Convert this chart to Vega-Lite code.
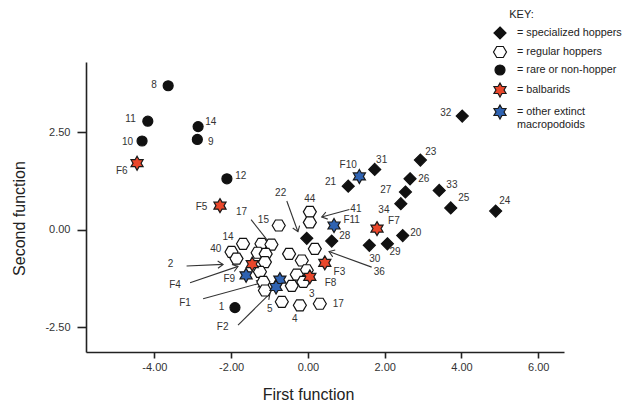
{
  "$schema": "https://vega.github.io/schema/vega-lite/v6.json",
  "width": 478,
  "height": 290,
  "autosize": {"type": "none"},
  "padding": {"left": 86, "top": 62, "right": 60, "bottom": 55},
  "background": "white",
  "config": {"view": {"stroke": null}, "font": "Liberation Sans",
    "legend": {"orient": "none", "legendX": 408, "legendY": -53, "padding": 0, "titleFontSize": 11, "titleFontWeight": "normal", "titleColor": "#222", "titlePadding": 7, "labelFontSize": 10.8, "labelColor": "#222", "labelOffset": 11, "rowPadding": 2, "symbolSize": 100, "symbolStrokeWidth": 1.2, "labelLimit": 200}},
  "datasets": {
    "points": [
      {"id": "15", "group": "regular hoppers", "x": -0.76, "y": 0.11},
      {"id": "44", "group": "regular hoppers", "x": 0.05, "y": 0.46},
      {"id": "41", "group": "regular hoppers", "x": 0.05, "y": 0.19},
      {"id": "36", "group": "regular hoppers", "x": 0.18, "y": -0.49},
      {"id": "14", "group": "regular hoppers", "x": -1.69, "y": -0.36},
      {"id": "40", "group": "regular hoppers", "x": -1.99, "y": -0.57},
      {"id": "2", "group": "regular hoppers", "x": -1.86, "y": -0.74},
      {"id": "", "group": "regular hoppers", "x": -1.21, "y": -0.36},
      {"id": "17", "group": "regular hoppers", "x": -0.95, "y": -0.38},
      {"id": "", "group": "regular hoppers", "x": -1.31, "y": -0.59},
      {"id": "", "group": "regular hoppers", "x": -1.10, "y": -0.62},
      {"id": "", "group": "regular hoppers", "x": -1.12, "y": -0.83},
      {"id": "", "group": "regular hoppers", "x": -1.25, "y": -1.08},
      {"id": "", "group": "regular hoppers", "x": -1.16, "y": -1.34},
      {"id": "", "group": "regular hoppers", "x": -1.12, "y": -1.56},
      {"id": "", "group": "regular hoppers", "x": -0.49, "y": -0.62},
      {"id": "", "group": "regular hoppers", "x": -0.16, "y": -0.79},
      {"id": "", "group": "regular hoppers", "x": -0.03, "y": -1.04},
      {"id": "", "group": "regular hoppers", "x": -0.29, "y": -1.15},
      {"id": "3", "group": "regular hoppers", "x": -0.12, "y": -1.34},
      {"id": "", "group": "regular hoppers", "x": -0.42, "y": -1.44},
      {"id": "5", "group": "regular hoppers", "x": -0.68, "y": -1.85},
      {"id": "4", "group": "regular hoppers", "x": -0.21, "y": -1.94},
      {"id": "17", "group": "regular hoppers", "x": 0.31, "y": -1.90},
      {"id": "32", "group": "specialized hoppers", "x": 4.02, "y": 2.92},
      {"id": "23", "group": "specialized hoppers", "x": 2.93, "y": 1.79},
      {"id": "31", "group": "specialized hoppers", "x": 1.74, "y": 1.55},
      {"id": "21", "group": "specialized hoppers", "x": 1.05, "y": 1.12},
      {"id": "26", "group": "specialized hoppers", "x": 2.66, "y": 1.31},
      {"id": "27", "group": "specialized hoppers", "x": 2.54, "y": 0.97},
      {"id": "33", "group": "specialized hoppers", "x": 3.42, "y": 1.01},
      {"id": "34", "group": "specialized hoppers", "x": 2.42, "y": 0.67},
      {"id": "25", "group": "specialized hoppers", "x": 3.72, "y": 0.56},
      {"id": "24", "group": "specialized hoppers", "x": 4.89, "y": 0.48},
      {"id": "20", "group": "specialized hoppers", "x": 2.47, "y": -0.15},
      {"id": "29", "group": "specialized hoppers", "x": 2.07, "y": -0.36},
      {"id": "30", "group": "specialized hoppers", "x": 1.60, "y": -0.40},
      {"id": "28", "group": "specialized hoppers", "x": 0.62, "y": -0.29},
      {"id": "22", "group": "specialized hoppers", "x": -0.03, "y": -0.22},
      {"id": "8", "group": "rare or non-hopper", "x": -3.64, "y": 3.70},
      {"id": "11", "group": "rare or non-hopper", "x": -4.17, "y": 2.79},
      {"id": "10", "group": "rare or non-hopper", "x": -4.32, "y": 2.28},
      {"id": "14", "group": "rare or non-hopper", "x": -2.86, "y": 2.65},
      {"id": "9", "group": "rare or non-hopper", "x": -2.88, "y": 2.32},
      {"id": "12", "group": "rare or non-hopper", "x": -2.11, "y": 1.31},
      {"id": "1", "group": "rare or non-hopper", "x": -1.90, "y": -2.00},
      {"id": "F6", "group": "balbarids", "x": -4.45, "y": 1.71},
      {"id": "F5", "group": "balbarids", "x": -2.29, "y": 0.62},
      {"id": "F4", "group": "balbarids", "x": -1.45, "y": -0.88},
      {"id": "F3", "group": "balbarids", "x": 0.44, "y": -0.85},
      {"id": "F8", "group": "balbarids", "x": 0.05, "y": -1.21},
      {"id": "F7", "group": "balbarids", "x": 1.80, "y": 0.03},
      {"id": "F10", "group": "other extinct macropodoids", "x": 1.34, "y": 1.37},
      {"id": "F11", "group": "other extinct macropodoids", "x": 0.68, "y": 0.11},
      {"id": "F9", "group": "other extinct macropodoids", "x": -1.61, "y": -1.17},
      {"id": "F1", "group": "other extinct macropodoids", "x": -0.73, "y": -1.28},
      {"id": "F2", "group": "other extinct macropodoids", "x": -0.83, "y": -1.47}
    ],
    "labels": [
      {"text": "32", "x": 3.59, "y": 3.00},
      {"text": "23", "x": 3.20, "y": 1.99},
      {"text": "31", "x": 1.92, "y": 1.80},
      {"text": "21", "x": 0.59, "y": 1.24},
      {"text": "26", "x": 3.02, "y": 1.31},
      {"text": "27", "x": 2.03, "y": 1.01},
      {"text": "33", "x": 3.75, "y": 1.15},
      {"text": "34", "x": 1.98, "y": 0.51},
      {"text": "25", "x": 4.06, "y": 0.81},
      {"text": "24", "x": 5.13, "y": 0.73},
      {"text": "20", "x": 2.81, "y": -0.08},
      {"text": "29", "x": 2.27, "y": -0.57},
      {"text": "30", "x": 1.74, "y": -0.76},
      {"text": "28", "x": 0.96, "y": -0.16},
      {"text": "22", "x": -0.71, "y": 0.95},
      {"text": "8", "x": -4.01, "y": 3.72},
      {"text": "11", "x": -4.62, "y": 2.85},
      {"text": "10", "x": -4.70, "y": 2.26},
      {"text": "14", "x": -2.53, "y": 2.78},
      {"text": "9", "x": -2.53, "y": 2.26},
      {"text": "12", "x": -1.75, "y": 1.39},
      {"text": "1", "x": -2.25, "y": -1.98},
      {"text": "F6", "x": -4.85, "y": 1.51},
      {"text": "F5", "x": -2.77, "y": 0.58},
      {"text": "F4", "x": -3.46, "y": -1.41},
      {"text": "F3", "x": 0.82, "y": -1.08},
      {"text": "F8", "x": 0.59, "y": -1.38},
      {"text": "F7", "x": 2.24, "y": 0.22},
      {"text": "F10", "x": 1.05, "y": 1.67},
      {"text": "F11", "x": 1.14, "y": 0.24},
      {"text": "F9", "x": -2.05, "y": -1.26},
      {"text": "F1", "x": -3.20, "y": -1.88},
      {"text": "F2", "x": -2.22, "y": -2.49},
      {"text": "15", "x": -1.16, "y": 0.24},
      {"text": "44", "x": 0.05, "y": 0.78},
      {"text": "14", "x": -2.08, "y": -0.19},
      {"text": "40", "x": -2.40, "y": -0.49},
      {"text": "3", "x": 0.10, "y": -1.64},
      {"text": "5", "x": -0.99, "y": -2.03},
      {"text": "4", "x": -0.34, "y": -2.30},
      {"text": "17", "x": 0.79, "y": -1.90},
      {"text": "17", "x": -1.73, "y": 0.45},
      {"text": "2", "x": -3.58, "y": -0.89},
      {"text": "41", "x": 1.25, "y": 0.54},
      {"text": "36", "x": 1.86, "y": -1.08}
    ],
    "arrows": [
      {"name": "22", "x": -0.55, "y": 0.74, "x2": -0.26, "y2": -0.05},
      {"name": "17", "x": -1.48, "y": 0.26, "x2": -0.92, "y2": -0.44},
      {"name": "41", "x": 1.08, "y": 0.52, "x2": 0.36, "y2": 0.33},
      {"name": "36", "x": 1.66, "y": -0.96, "x2": 0.55, "y2": -0.56},
      {"name": "2", "x": -3.16, "y": -0.93, "x2": -2.21, "y2": -0.89},
      {"name": "F4", "x": -3.07, "y": -1.36, "x2": -1.82, "y2": -0.94},
      {"name": "F1", "x": -2.73, "y": -1.77, "x2": -1.20, "y2": -1.36},
      {"name": "F2", "x": -1.82, "y": -2.45, "x2": -0.99, "y2": -1.64}
    ]
  },
  "layer": [
    {
      "data": {"name": "arrows"},
      "mark": {"type": "rule", "stroke": "#333", "strokeWidth": 1.1},
      "encoding": {
        "x": {"field": "x", "type": "quantitative", "scale": {"domain": [-5.78, 6.67], "nice": false, "zero": false},
          "axis": {"title": "First function", "values": [-4, -2, 0, 2, 4, 6], "labelExpr": "replace(format(datum.value, '.2f'), '\u2212', '-')", "grid": false, "domainColor": "#222", "domainWidth": 1.6, "tickColor": "#222", "tickWidth": 1.6, "tickSize": 6, "labelFontSize": 11, "labelColor": "#333", "labelPadding": 3, "titleFontSize": 16, "titleFontWeight": "normal", "titleColor": "#222", "titlePadding": 14, "titleX": 222}},
        "y": {"field": "y", "type": "quantitative", "scale": {"domain": [-3.14, 4.31], "nice": false, "zero": false},
          "axis": {"title": "Second function", "values": [-2.5, 0, 2.5], "labelExpr": "replace(format(datum.value, '.2f'), '\u2212', '-')", "grid": false, "domainColor": "#222", "domainWidth": 1.6, "tickColor": "#222", "tickWidth": 1.6, "tickSize": 9, "labelFontSize": 11, "labelColor": "#333", "labelPadding": 7, "titleFontSize": 16, "titleFontWeight": "normal", "titleColor": "#222", "titlePadding": 17, "titleY": 156}},
        "x2": {"field": "x2"},
        "y2": {"field": "y2"}
      }
    },
    {
      "data": {"name": "arrows"},
      "mark": {"type": "point", "shape": "M-1,-0.7L0,0L-1,0.7", "filled": false, "stroke": "#333", "strokeWidth": 1.1, "size": 110, "opacity": 1,
        "angle": {"expr": "atan2(scale('y', datum.y2) - scale('y', datum.y), scale('x', datum.x2) - scale('x', datum.x)) * 180 / PI"}},
      "encoding": {
        "x": {"field": "x2", "type": "quantitative", "scale": {"domain": [-5.78, 6.67], "nice": false, "zero": false}, "title": "First function"},
        "y": {"field": "y2", "type": "quantitative", "scale": {"domain": [-3.14, 4.31], "nice": false, "zero": false}, "title": "Second function"}
      }
    },
    {
      "data": {"name": "points"},
      "mark": {"type": "point", "filled": true, "size": 100, "strokeWidth": 1.2, "opacity": 1},
      "encoding": {
        "x": {"field": "x", "type": "quantitative", "scale": {"domain": [-5.78, 6.67], "nice": false, "zero": false}, "title": "First function"},
        "y": {"field": "y", "type": "quantitative", "scale": {"domain": [-3.14, 4.31], "nice": false, "zero": false}, "title": "Second function"},
        "shape": {"field": "group", "type": "nominal",
          "scale": {"domain": ["specialized hoppers", "regular hoppers", "rare or non-hopper", "balbarids", "other extinct macropodoids"],
            "range": ["M0,-1.2L1.2,0L0,1.2L-1.2,0Z", "M-1.3,0L-0.65,-1.1L0.65,-1.1L1.3,0L0.65,1.1L-0.65,1.1Z", "circle", "M0,-1.4L0.404,-0.7L1.212,-0.7L0.808,0L1.212,0.7L0.404,0.7L0,1.4L-0.404,0.7L-1.212,0.7L-0.808,0L-1.212,-0.7L-0.404,-0.7Z", "M0,-1.4L0.404,-0.7L1.212,-0.7L0.808,0L1.212,0.7L0.404,0.7L0,1.4L-0.404,0.7L-1.212,0.7L-0.808,0L-1.212,-0.7L-0.404,-0.7Z"]},
          "legend": {"title": "\u200b\u00a0\u00a0\u00a0\u00a0\u00a0KEY:",
            "labelExpr": "datum.label == 'other extinct macropodoids' ? ['= other extinct', '\u00a0\u00a0\u00a0macropodoids'] : '= ' + datum.label"}},
        "fill": {"field": "group", "type": "nominal",
          "scale": {"domain": ["specialized hoppers", "regular hoppers", "rare or non-hopper", "balbarids", "other extinct macropodoids"],
            "range": ["#111111", "#ffffff", "#111111", "#e9472b", "#2f63b2"]},
          "legend": {"title": "\u200b\u00a0\u00a0\u00a0\u00a0\u00a0KEY:",
            "labelExpr": "datum.label == 'other extinct macropodoids' ? ['= other extinct', '\u00a0\u00a0\u00a0macropodoids'] : '= ' + datum.label"}},
        "stroke": {"field": "group", "type": "nominal",
          "scale": {"domain": ["specialized hoppers", "regular hoppers", "rare or non-hopper", "balbarids", "other extinct macropodoids"],
            "range": ["#111111", "#111111", "#111111", "#1a1a1a", "#1a1a1a"]},
          "legend": {"title": "\u200b\u00a0\u00a0\u00a0\u00a0\u00a0KEY:",
            "labelExpr": "datum.label == 'other extinct macropodoids' ? ['= other extinct', '\u00a0\u00a0\u00a0macropodoids'] : '= ' + datum.label"}}
      }
    },
    {
      "data": {"name": "labels"},
      "mark": {"type": "text", "fontSize": 10, "fill": "#333"},
      "encoding": {
        "x": {"field": "x", "type": "quantitative", "scale": {"domain": [-5.78, 6.67], "nice": false, "zero": false}, "title": "First function"},
        "y": {"field": "y", "type": "quantitative", "scale": {"domain": [-3.14, 4.31], "nice": false, "zero": false}, "title": "Second function"},
        "text": {"field": "text"}
      }
    }
  ]
}
